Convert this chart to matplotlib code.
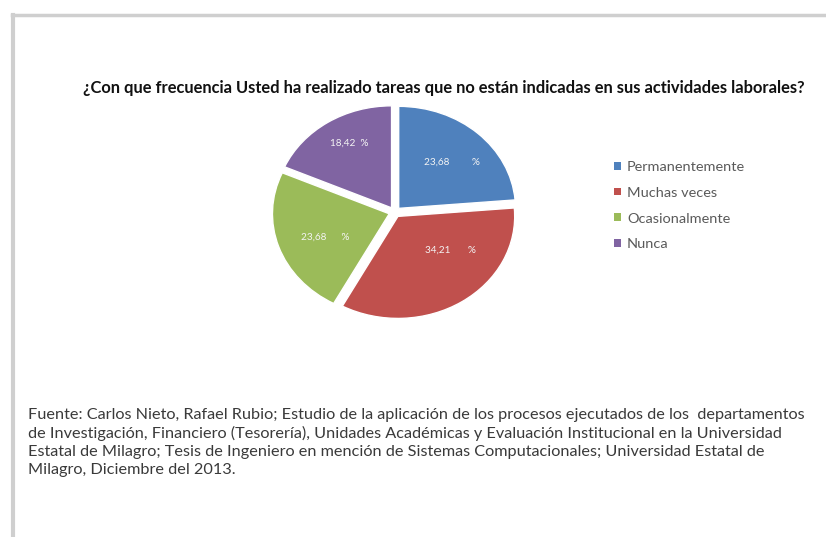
import matplotlib
matplotlib.use('Agg')
import matplotlib.pyplot as plt
from matplotlib.lines import Line2D
from matplotlib.patches import Patch
import numpy as np

plt.rcParams['font.family'] = ['Lato', 'DejaVu Sans']

# datos
categorias = ['Permanentemente', 'Muchas veces', 'Ocasionalmente', 'Nunca']
porcentajes = [23.68, 34.21, 23.68, 18.42]
colores = ['#4F81BD', '#C0504D', '#9BBB59', '#8064A2']
titulo = '¿Con que frecuencia Usted ha realizado tareas que no están indicadas en sus actividades laborales?'
fuente = ('Fuente: Carlos Nieto, Rafael Rubio; Estudio de la aplicación de los procesos ejecutados de los  departamentos\n'
          'de Investigación, Financiero (Tesorería), Unidades Académicas y Evaluación Institucional en la Universidad\n'
          'Estatal de Milagro; Tesis de Ingeniero en mención de Sistemas Computacionales; Universidad Estatal de\n'
          'Milagro, Diciembre del 2013.')

W, H = 826, 537
fig = plt.figure(figsize=(W / 100, H / 100), dpi=100)
fig.patch.set_facecolor('white')


def tam_para(texto, ancho_px, **kw):
    """tamaño de letra para que el texto ocupe ancho_px"""
    t = fig.text(0, 0, texto, fontsize=10, **kw)
    w = t.get_window_extent(fig.canvas.get_renderer()).width
    t.remove()
    return 10 * ancho_px / w


# marco gris del recorte
fig.add_artist(Line2D([12 / W, 1], [1 - 15 / H, 1 - 15 / H], color='#cfcfcf', lw=2.5))
fig.add_artist(Line2D([13 / W, 13 / W], [0, 1 - 15 / H], color='#cfcfcf', lw=3))

fig.text(444 / W, 1 - 88 / H, titulo, ha='center', va='center',
         fontsize=tam_para(titulo, 728, fontweight='bold'), fontweight='bold', color='#111111')

ax = fig.add_axes([0.3224, 0.396, 0.311, 0.418])
wedges, _ = ax.pie(porcentajes, colors=colores, startangle=90, counterclock=False,
                   explode=[0.05] * len(porcentajes),
                   wedgeprops=dict(edgecolor='white', linewidth=1))
ax.set_xlim(-1.1, 1.1)
ax.set_ylim(-1.1, 1.1)
ax.set_aspect('auto')
ax.axis('off')

# etiquetas de porcentaje dentro de cada porcion
radio_etq = [0.64, 0.56, 0.59, 0.73]
giro_etq = [-2.4, 20.6, 3.9, -3.2]
espacios = [9, 7, 6, 2]
for w, v, r, g, n in zip(wedges, porcentajes, radio_etq, giro_etq, espacios):
    ang = np.deg2rad((w.theta1 + w.theta2) / 2 + g)
    cx, cy = w.center
    ax.text(cx + r * np.cos(ang), cy + r * np.sin(ang),
            f'{v:.2f}'.replace('.', ',') + ' ' * n + '%',
            ha='center', va='center', color='#f4f4f4', fontsize=7.2)

tam_ley = tam_para(categorias[0], 118)
handles = [Patch(facecolor=c, edgecolor='none') for c in colores]
fig.legend(handles, categorias, loc='upper left', bbox_to_anchor=(614 / W, 1 - 161 / H),
           frameon=False, fontsize=tam_ley, handlelength=0.45, handleheight=0.45,
           handletextpad=0.45, labelspacing=0.95, borderpad=0, borderaxespad=0,
           labelcolor='#5a5a5a')

primera = fuente.split('\n')[0]
fig.text(28 / W, 1 - 408 / H, fuente, ha='left', va='top',
         fontsize=tam_para(primera, 782), color='#3a3a3a', linespacing=1.34)

fig.savefig('out.png', dpi=100, facecolor='white')
